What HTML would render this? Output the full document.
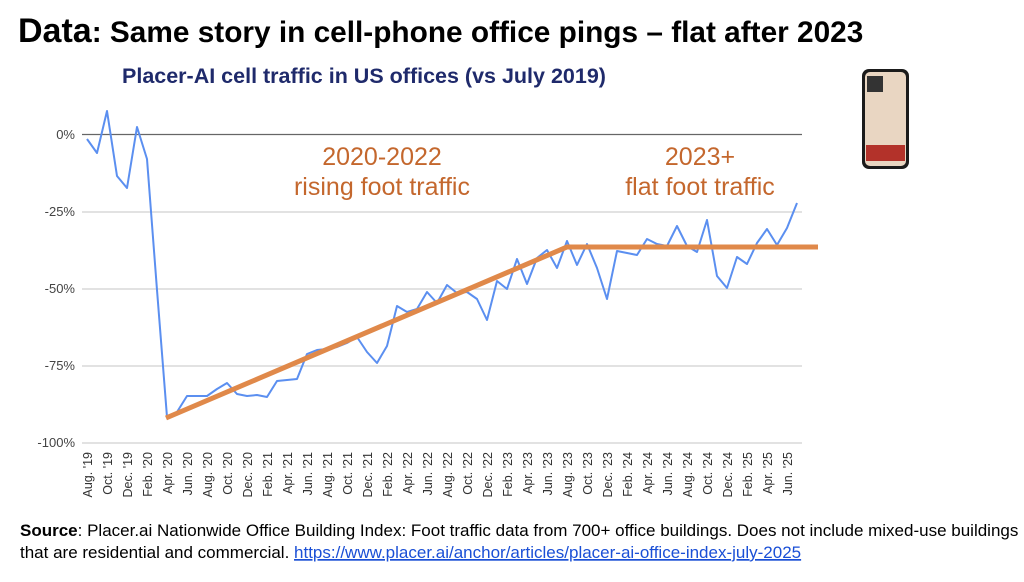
<!DOCTYPE html>
<html><head><meta charset="utf-8"><style>
body{margin:0;width:1024px;height:577px;background:#fff;overflow:hidden;font-family:"Liberation Sans",Arial,sans-serif}
</style></head><body>
<svg width="1024" height="577" xmlns="http://www.w3.org/2000/svg" font-family="Liberation Sans, Arial, sans-serif">
<text x="18" y="42" font-size="34" font-weight="bold" fill="#000">Data<tspan font-size="29.8">: Same story in cell-phone office pings – flat after 2023</tspan></text>
<text x="122" y="83" font-size="21.5" font-weight="bold" fill="#1f2a6b">Placer-AI cell traffic in US offices (vs July 2019)</text>
<g stroke="#d9d9d9" stroke-width="1.5">
<line x1="82" y1="212" x2="802" y2="212"/><line x1="82" y1="289" x2="802" y2="289"/><line x1="82" y1="366" x2="802" y2="366"/><line x1="82" y1="443" x2="802" y2="443"/></g>
<line x1="82" y1="134.5" x2="802" y2="134.5" stroke="#666" stroke-width="1.3"/>
<g font-size="13" fill="#444" text-anchor="end">
<text x="75" y="139">0%</text><text x="75" y="216">-25%</text><text x="75" y="293">-50%</text><text x="75" y="370">-75%</text><text x="75" y="447">-100%</text></g>
<g font-size="12.5" fill="#333" text-anchor="end">
<text transform="translate(92,452) rotate(-90)">Aug. '19</text>
<text transform="translate(112,452) rotate(-90)">Oct. '19</text>
<text transform="translate(132,452) rotate(-90)">Dec. '19</text>
<text transform="translate(152,452) rotate(-90)">Feb. '20</text>
<text transform="translate(172,452) rotate(-90)">Apr. '20</text>
<text transform="translate(192,452) rotate(-90)">Jun. '20</text>
<text transform="translate(212,452) rotate(-90)">Aug. '20</text>
<text transform="translate(232,452) rotate(-90)">Oct. '20</text>
<text transform="translate(252,452) rotate(-90)">Dec. '20</text>
<text transform="translate(272,452) rotate(-90)">Feb. '21</text>
<text transform="translate(292,452) rotate(-90)">Apr. '21</text>
<text transform="translate(312,452) rotate(-90)">Jun. '21</text>
<text transform="translate(332,452) rotate(-90)">Aug. '21</text>
<text transform="translate(352,452) rotate(-90)">Oct. '21</text>
<text transform="translate(372,452) rotate(-90)">Dec. '21</text>
<text transform="translate(392,452) rotate(-90)">Feb. '22</text>
<text transform="translate(412,452) rotate(-90)">Apr. '22</text>
<text transform="translate(432,452) rotate(-90)">Jun. '22</text>
<text transform="translate(452,452) rotate(-90)">Aug. '22</text>
<text transform="translate(472,452) rotate(-90)">Oct. '22</text>
<text transform="translate(492,452) rotate(-90)">Dec. '22</text>
<text transform="translate(512,452) rotate(-90)">Feb. '23</text>
<text transform="translate(532,452) rotate(-90)">Apr. '23</text>
<text transform="translate(552,452) rotate(-90)">Jun. '23</text>
<text transform="translate(572,452) rotate(-90)">Aug. '23</text>
<text transform="translate(592,452) rotate(-90)">Oct. '23</text>
<text transform="translate(612,452) rotate(-90)">Dec. '23</text>
<text transform="translate(632,452) rotate(-90)">Feb. '24</text>
<text transform="translate(652,452) rotate(-90)">Apr. '24</text>
<text transform="translate(672,452) rotate(-90)">Jun. '24</text>
<text transform="translate(692,452) rotate(-90)">Aug. '24</text>
<text transform="translate(712,452) rotate(-90)">Oct. '24</text>
<text transform="translate(732,452) rotate(-90)">Dec. '24</text>
<text transform="translate(752,452) rotate(-90)">Feb. '25</text>
<text transform="translate(772,452) rotate(-90)">Apr. '25</text>
<text transform="translate(792,452) rotate(-90)">Jun. '25</text>
</g>
<polyline fill="none" stroke="#5b8ff0" stroke-width="2" stroke-linejoin="round" points="87,139 97,153 107,111 117,176 127,188 137,127 147,159 157,290 167,417 177,412 187,396 197,396 207,396 217,389 227,383 237,394 247,396 257,395 267,397 277,381 287,380 297,379 307,354 317,350 327,349 337,347 347,343 357,337 367,352 377,363 387,346 397,306 407,312 417,309 427,292 437,303 447,285 457,293 467,292 477,299 487,320 497,281 507,289 517,259 527,284 537,258 547,250 557,268 567,241 577,265 587,244 597,268 607,299 617,251 627,253 637,255 647,239 657,244 667,246 677,226 687,246 697,252 707,220 717,276 727,288 737,257 747,264 757,243 767,229 777,245 787,228 797,203"/>
<polyline fill="none" stroke="#e0894a" stroke-width="5" points="166,418 567,247 818,247"/>
<g font-size="25" fill="#c4672d" text-anchor="middle">
<text x="382" y="165">2020-2022</text><text x="382" y="195">rising foot traffic</text>
<text x="700" y="165">2023+</text><text x="700" y="195">flat foot traffic</text></g>
<rect x="862" y="69" width="47" height="100" rx="7" fill="#1b1b1b"/>
<rect x="865" y="72" width="41" height="94" rx="5" fill="#e9d6c2"/>
<rect x="866" y="145" width="39" height="16" fill="#b3322a"/>
<rect x="867" y="76" width="16" height="16" fill="#333"/>
<g font-size="17" fill="#000">
<text x="20" y="536"><tspan font-weight="bold">Source</tspan>: Placer.ai Nationwide Office Building Index: Foot traffic data from 700+ office buildings. Does not include mixed-use buildings</text>
<text x="20" y="558">that are residential and commercial. <tspan fill="#1a4fd6" text-decoration="underline">https://www.placer.ai/anchor/articles/placer-ai-office-index-july-2025</tspan></text></g>
</svg>
</body></html>
